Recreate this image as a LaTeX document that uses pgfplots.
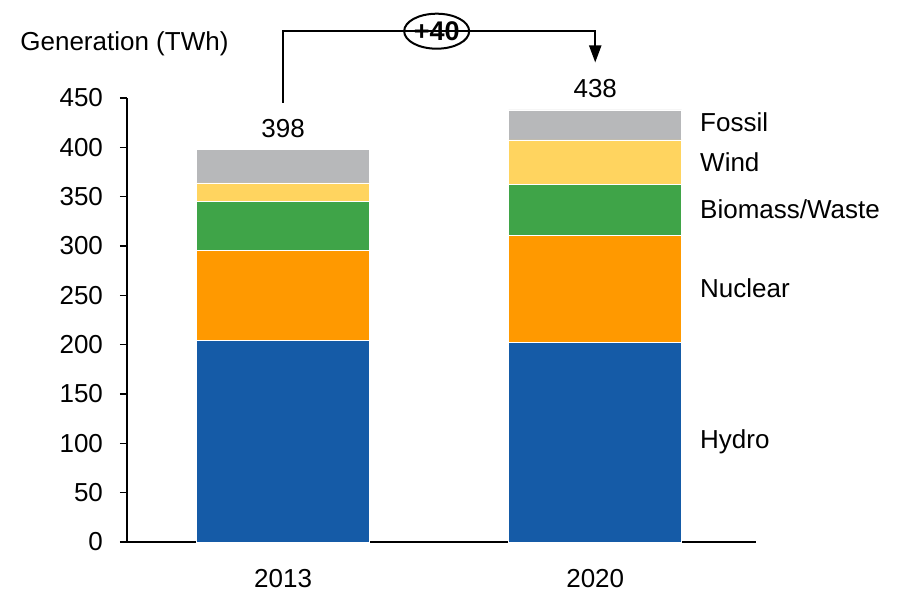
\documentclass[border=0pt]{standalone}
\usepackage{fontspec}
\setmainfont{Liberation Sans}
\usepackage{pgfplots}
\pgfplotsset{compat=1.18}
\usetikzlibrary{arrows.meta,shapes.geometric}
\definecolor{hydro}{RGB}{21,91,167}
\definecolor{nuclear}{RGB}{255,153,0}
\definecolor{biomass}{RGB}{63,164,72}
\definecolor{wind}{RGB}{255,212,95}
\definecolor{fossil}{RGB}{183,184,186}
\pgfplotstableread{
x hydro nuclear biomass wind fossil
0 204.5 90.7 49.6 19.2 34.0
1 202.5 108.6 51.6 44.8 30.5
}\gen
\begin{document}
\fontsize{13}{15}\selectfont
\begin{tikzpicture}
\useasboundingbox (0,0) rectangle (449pt,297pt);
\node[anchor=west,inner sep=0pt] at (10pt,275pt) {Generation (TWh)};
\begin{axis}[
  at={(63.5pt,26pt)}, anchor=south west,
  width=314.5pt, height=222pt, scale only axis,
  xmin=-0.5, xmax=1.515, ymin=0, ymax=450,
  axis x line=bottom, axis y line=left,
  axis line style={line width=1pt,-},
  ybar stacked, bar width=86.5pt,
  xtick={0,1}, xticklabels={2013,2020},
  x tick style={draw=none},
  ytick={0,50,...,450},
  y tick style={black,line width=0.8pt},
  tick align=outside, major tick length=3.5pt,
  xticklabel style={yshift=-5.5pt},
  yticklabel style={xshift=-4pt},
  /pgf/number format/assume math mode=true,
  clip=false,
]
\addplot[fill=hydro,draw=white,line width=0.3pt] table[x=x,y=hydro]{\gen};
\addplot[fill=nuclear,draw=white,line width=0.3pt] table[x=x,y=nuclear]{\gen};
\addplot[fill=biomass,draw=white,line width=0.3pt] table[x=x,y=biomass]{\gen};
\addplot[fill=wind,draw=white,line width=0.3pt] table[x=x,y=wind]{\gen};
\addplot[fill=fossil,draw=white,line width=0.3pt] table[x=x,y=fossil]{\gen};
\node[anchor=base,yshift=6pt] at (axis cs:0,398) {398};
\node[anchor=base,yshift=6pt] at (axis cs:1,438) {438};
\draw[line width=1pt,-{Triangle[width=6pt,length=8.5pt]}] (axis cs:0,445) |- (axis cs:1,517.7) -- (axis cs:1,486);
\node[draw,ellipse,fill=white,line width=1pt,inner sep=0pt,minimum width=32.5pt,minimum height=17.5pt,font=\fontsize{13.5}{15}\selectfont\bfseries] at (axis cs:0.492,517.7) {+40};
\node[anchor=west,inner sep=0pt] at (axis cs:1.335,425.5) {Fossil};
\node[anchor=west,inner sep=0pt] at (axis cs:1.335,385.1) {Wind};
\node[anchor=west,inner sep=0pt] at (axis cs:1.335,337.6) {Biomass/Waste};
\node[anchor=west,inner sep=0pt] at (axis cs:1.335,257.5) {Nuclear};
\node[anchor=west,inner sep=0pt] at (axis cs:1.335,102) {Hydro};
\end{axis}
\end{tikzpicture}
\end{document}
